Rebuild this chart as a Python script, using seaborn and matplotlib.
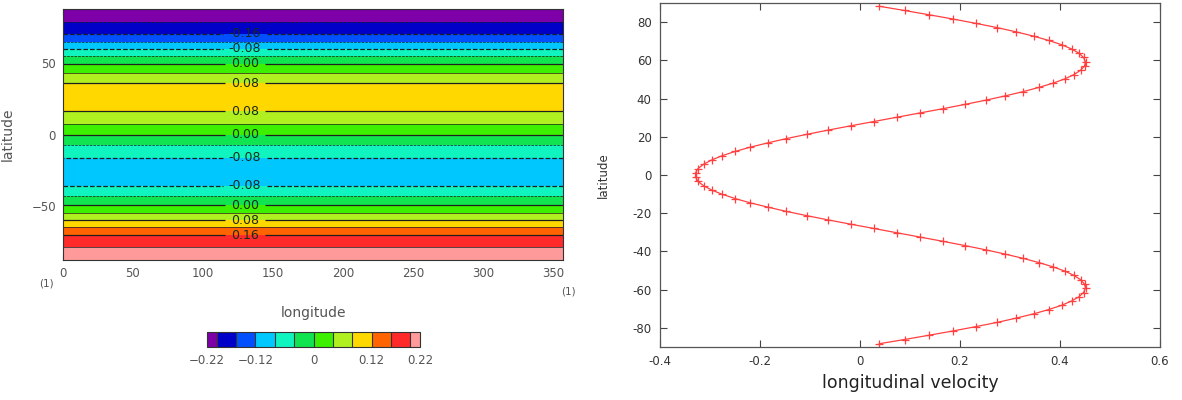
import numpy as np
import matplotlib
matplotlib.use('Agg')
import matplotlib.pyplot as plt
from matplotlib.ticker import MultipleLocator
import seaborn as sns

# ---------------------------------------------------------------------------
# Data (north -> south)
# ---------------------------------------------------------------------------

LAT_NORTH = [88.32, 86.08, 83.85, 81.61, 79.38, 77.14, 74.91, 72.67, 70.43, 68.20,
             65.96, 63.73, 61.49, 59.25, 57.02, 54.78, 52.55, 50.31, 48.07, 45.84,
             43.60, 41.37, 39.13, 36.89, 34.66, 32.42, 30.19, 27.95, 25.71, 23.48,
             21.24, 19.01, 16.77, 14.53, 12.30, 10.06, 7.83, 5.59, 3.35, 1.12]
LAT_SOUTH = [-1.12, -3.35, -5.59, -7.83, -10.06, -12.30, -14.53, -16.77, -19.01, -21.24,
             -23.48, -25.71, -27.95, -30.19, -32.42, -34.66, -36.89, -39.13, -41.37, -43.60,
             -45.84, -48.07, -50.31, -52.55, -54.78, -57.02, -59.25, -61.49, -63.73, -65.96,
             -68.20, -70.43, -72.67, -74.91, -77.14, -79.38, -81.61, -83.85, -86.08, -88.32]

# zonal wind profile (right panel)
U_NORTH = [0.038, 0.089, 0.138, 0.186, 0.231, 0.274, 0.312, 0.347, 0.377, 0.403,
           0.423, 0.438, 0.447, 0.451, 0.449, 0.441, 0.428, 0.410, 0.386, 0.358,
           0.326, 0.290, 0.251, 0.209, 0.165, 0.119, 0.073, 0.027, -0.019, -0.064,
           -0.107, -0.148, -0.185, -0.220, -0.250, -0.276, -0.297, -0.313, -0.324, -0.329]
U_SOUTH = [-0.329, -0.324, -0.313, -0.297, -0.276, -0.250, -0.220, -0.185, -0.148, -0.107,
           -0.064, -0.019, 0.027, 0.073, 0.119, 0.165, 0.209, 0.251, 0.290, 0.326,
           0.358, 0.386, 0.410, 0.428, 0.441, 0.449, 0.451, 0.447, 0.438, 0.423,
           0.403, 0.377, 0.347, 0.312, 0.274, 0.231, 0.186, 0.138, 0.089, 0.038]

# contoured field (left panel), constant along longitude
F_NORTH = [-0.215, -0.214, -0.211, -0.207, -0.201, -0.192, -0.181, -0.170, -0.157, -0.142,
           -0.127, -0.110, -0.091, -0.072, -0.054, -0.036, -0.019, -0.002, 0.011, 0.024,
           0.037, 0.049, 0.063, 0.076, 0.085, 0.091, 0.096, 0.099, 0.100, 0.099,
           0.095, 0.089, 0.082, 0.073, 0.063, 0.053, 0.043, 0.031, 0.019, 0.006]
F_SOUTH = [-0.006, -0.019, -0.031, -0.043, -0.053, -0.063, -0.073, -0.082, -0.089, -0.095,
           -0.099, -0.100, -0.099, -0.096, -0.091, -0.085, -0.076, -0.063, -0.049, -0.037,
           -0.024, -0.011, 0.002, 0.019, 0.036, 0.054, 0.072, 0.091, 0.110, 0.127,
           0.142, 0.157, 0.170, 0.181, 0.192, 0.201, 0.207, 0.211, 0.214, 0.215]

LON_RANGE = [0.0, 357.1875]

LEVELS = [-0.22, -0.20, -0.16, -0.12, -0.08, -0.04, 0.0, 0.04, 0.08, 0.12, 0.16, 0.20, 0.22]
BAND_COLORS = ['#7d00a8', '#0000c8', '#0050ff', '#00c8ff', '#10f5c0', '#10e450',
               '#3cf000', '#b0f020', '#ffd800', '#ff6400', '#ff2a2a', '#ff9a9a']
THIN_LEVELS = [-0.20, -0.12, -0.04, 0.04, 0.12, 0.20]
LABEL_LEVELS = [-0.16, -0.08, 0.0, 0.08, 0.16]
LABEL_LATS = [70.6, 59.7, 49.8, 36.3, 15.5, 0.0, -16.2, -35.9, -50.2, -60.7, -71.0]

CB_TICKS = [-0.22, -0.12, 0.0, 0.12, 0.22]
CB_TICKLABELS = ['\u22120.22', '\u22120.12', '0', '0.12', '0.22']

# ---------------------------------------------------------------------------
# Figure
# ---------------------------------------------------------------------------

sns.set_style('ticks')
plt.rcParams['font.family'] = ['DejaVu Sans']
plt.rcParams['axes.unicode_minus'] = False

fig = plt.figure(figsize=(11.82, 4.0), dpi=100)

lat = np.array(LAT_NORTH + LAT_SOUTH)
field = np.array(F_NORTH + F_SOUTH)
lon = np.array(LON_RANGE)
Z = np.column_stack([field, field])

# ---- left: contour map ----------------------------------------------------
ax1 = fig.add_axes([63 / 1182, 1 - 260 / 400, 500 / 1182, 251 / 400])
cf = ax1.contourf(lon, lat, Z, levels=LEVELS, colors=BAND_COLORS)

ax1.contour(lon, lat, Z, levels=THIN_LEVELS, colors='#1e1e1e', linewidths=0.5,
            linestyles=['--' if lv < 0 else '-' for lv in THIN_LEVELS])
cs = ax1.contour(lon, lat, Z, levels=LABEL_LEVELS, colors='#1e1e1e', linewidths=0.9,
                 linestyles=['--' if lv < 0 else '-' for lv in LABEL_LEVELS])
ax1.clabel(cs, fmt='%.2f', fontsize=9, colors='#1a2a1a', inline=True,
           inline_spacing=6, manual=[(130, la) for la in LABEL_LATS])

ax1.set_xlim(LON_RANGE)
ax1.set_ylim(lat.min(), lat.max())
ax1.set_xticks(range(0, 351, 50))
ax1.set_xticklabels([str(v) for v in range(0, 351, 50)])
ax1.xaxis.set_minor_locator(MultipleLocator(10))
ax1.set_yticks([-50, 0, 50])
ax1.set_yticklabels(['\u221250', '0', '50'])
ax1.tick_params(axis='both', which='both', direction='in', top=True, right=True,
                colors='#333333', labelcolor='#555555', labelsize=8.5, pad=5)
ax1.tick_params(which='major', length=4, width=0.8)
ax1.tick_params(which='minor', length=2, width=0.6)
for sp in ax1.spines.values():
    sp.set_color('#333333')
    sp.set_linewidth(0.8)
ax1.set_xlabel('longitude', fontsize=10, color='#555555', labelpad=19)
ax1.set_ylabel('latitude', fontsize=10, color='#555555', labelpad=12)

fig.text(46 / 1182, 1 - 283 / 400, '(1)', fontsize=7.5, color='#555555',
         ha='center', va='center')
fig.text(568 / 1182, 1 - 291 / 400, '(1)', fontsize=7.5, color='#555555',
         ha='center', va='center')

# colour bar
cax = fig.add_axes([207 / 1182, 1 - 347 / 400, 213 / 1182, 15 / 400])
cb = fig.colorbar(cf, cax=cax, orientation='horizontal', ticks=CB_TICKS,
                  drawedges=True, spacing='proportional')
cb.set_ticklabels(CB_TICKLABELS)
cb.outline.set_edgecolor('#333333')
cb.outline.set_linewidth(0.8)
cb.dividers.set_color('#333333')
cb.dividers.set_linewidth(0.8)
cax.tick_params(length=0, labelsize=8.5, labelcolor='#555555', pad=5)

# ---- right: velocity profile ----------------------------------------------
ax2 = fig.add_axes([660 / 1182, 1 - 347 / 400, 500 / 1182, 344 / 400])
u = np.array(U_NORTH + U_SOUTH)
sns.lineplot(x=u, y=lat, sort=False, estimator=None, ax=ax2, color='#ff4040',
             linewidth=0.9, marker='+', markersize=6, markeredgewidth=0.9,
             markeredgecolor='#ff4040')
ax2.set_xlim(-0.4, 0.6)
ax2.set_ylim(-90, 90)
ax2.set_xticks([-0.4, -0.2, 0.0, 0.2, 0.4, 0.6])
ax2.set_xticklabels(['-0.4', '-0.2', '0', '0.2', '0.4', '0.6'])
ax2.set_yticks(range(-80, 81, 20))
ax2.tick_params(axis='both', direction='in', top=True, right=True, length=5,
                width=0.8, colors='#444444', labelcolor='#333333', labelsize=8.5,
                pad=6)
for sp in ax2.spines.values():
    sp.set_color('#555555')
    sp.set_linewidth(0.9)
ax2.set_xlabel('longitudinal velocity', fontsize=12.5, color='#222222', labelpad=4)
ax2.set_ylabel('latitude', fontsize=8.5, color='#333333', labelpad=16)

fig.savefig('out.png', dpi=100)
